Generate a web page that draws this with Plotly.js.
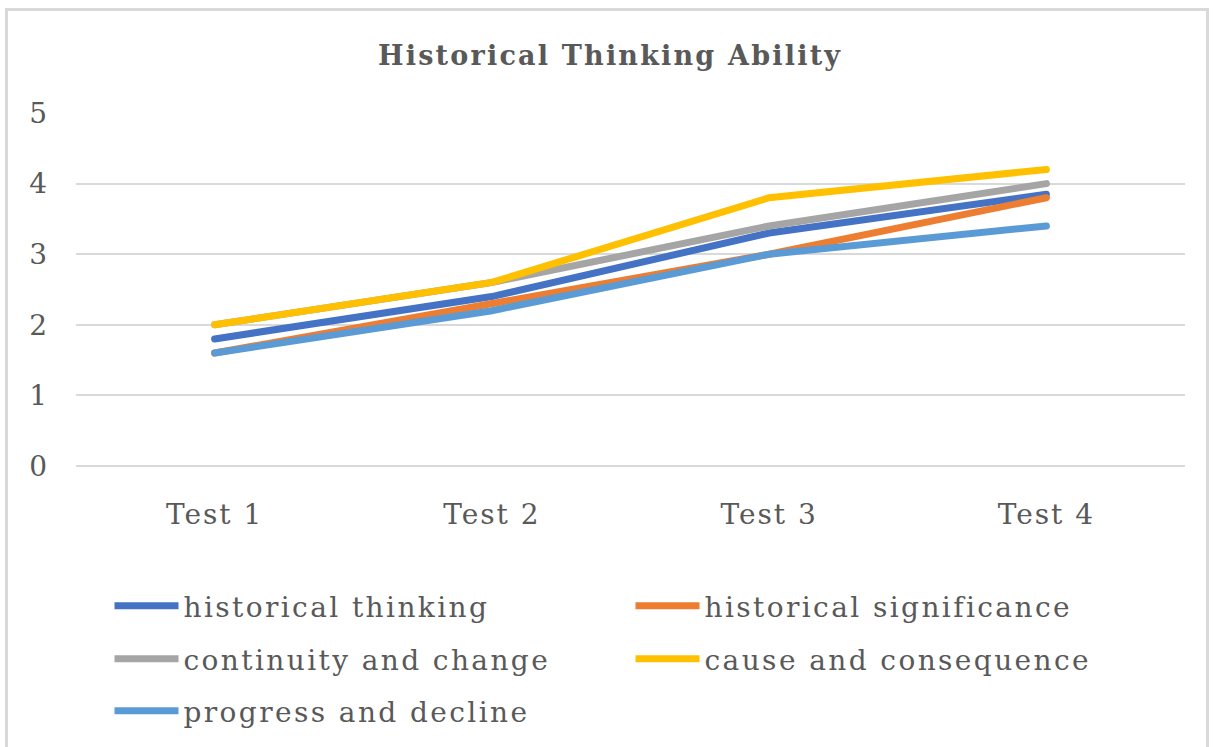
<!DOCTYPE html>
<html>
<head>
<meta charset="utf-8">
<script src="https://cdn.plot.ly/plotly-3.0.1.min.js"></script>
<style>
  html, body { margin: 0; padding: 0; background: #fff; }
  #chart { width: 1213px; height: 747px; }
  #frame { position: absolute; left: 5px; top: 8px; width: 1204px; height: 760px;
           border: 3px solid #d9d9d9; pointer-events: none; box-sizing: border-box; }
  .xtick text { letter-spacing: 2px; }
  .infolayer g[class^="legend"] text, text.legendtext { letter-spacing: 2.4px !important; }
  .infolayer g[class^="legend"] g.scrollbox { clip-path: none !important; }
  .gtitle { letter-spacing: 2.2px; }
  .scatterlayer path.js-line { stroke-linecap: round !important; }
</style>
</head>
<body>
<div id="chart"></div>
<div id="frame"></div>
<script>
const categories = ["Test 1", "Test 2", "Test 3", "Test 4"];
const historicalThinking = [1.8, 2.4, 3.3, 3.85];
const historicalSignificance = [1.6, 2.3, 3.0, 3.8];
const continuityAndChange = [2.0, 2.6, 3.4, 4.0];
const causeAndConsequence = [2.0, 2.6, 3.8, 4.2];
const progressAndDecline = [1.6, 2.2, 3.0, 3.4];
const seriesNames = ["historical thinking", "historical significance", "continuity and change", "cause and consequence", "progress and decline"];
const yTicks = [0, 1, 2, 3, 4, 5];

const colors = ["#4472C4", "#ED7D31", "#A5A5A5", "#FFC000", "#5B9BD5"];
const values = [historicalThinking, historicalSignificance, continuityAndChange, causeAndConsequence, progressAndDecline];
const legendIds = ["legend", "legend2", "legend3", "legend4", "legend5"];

const traces = values.map((v, i) => ({
  type: "scatter",
  mode: "lines",
  x: categories,
  y: v,
  name: seriesNames[i],
  legend: legendIds[i],
  line: { color: colors[i], width: 7 },
  hoverinfo: "x+y+name"
}));

const font = "DejaVu Serif, serif";
function legendAt(px, py) {
  return {
    orientation: "h",
    xref: "container", yref: "container",
    x: px / 1213, y: 1 - py / 747, xanchor: "left", yanchor: "middle",
    font: { family: font, size: 28, color: "#595959" },
    bgcolor: "rgba(0,0,0,0)",
    itemwidth: 64,
    entrywidth: 470, entrywidthmode: "pixels"
  };
}
const colA = 109.5, colB = 630.5;
const rowY = [606, 659, 711];

const layout = {
  width: 1213, height: 747,
  paper_bgcolor: "#ffffff", plot_bgcolor: "#ffffff",
  margin: { l: 76, r: 28, t: 113, b: 281 },
  title: {
    text: "<b>Historical Thinking Ability</b>",
    font: { family: font, size: 27, color: "#595959" },
    x: 0.503, xanchor: "center", y: 0.926, yanchor: "middle", xref: "container", yref: "container"
  },
  xaxis: {
    type: "category",
    range: [-0.5, 3.5],
    showgrid: false, zeroline: false, showline: false, ticks: "",
    tickfont: { family: font, size: 28, color: "#595959" },
    ticklabelstandoff: 29
  },
  yaxis: {
    range: [0, 5],
    tickvals: yTicks,
    showgrid: true, gridcolor: "#d9d9d9", gridwidth: 2,
    zeroline: true, zerolinecolor: "#d9d9d9", zerolinewidth: 2,
    showline: false, ticks: "",
    tickfont: { family: font, size: 28, color: "#595959" },
    ticklabelstandoff: 28
  },
  showlegend: true,
  legend: legendAt(colA, rowY[0]),
  legend2: legendAt(colB, rowY[0]),
  legend3: legendAt(colA, rowY[1]),
  legend4: legendAt(colB, rowY[1]),
  legend5: legendAt(colA, rowY[2])
};

Plotly.newPlot("chart", traces, layout, { displayModeBar: false, staticPlot: true });
</script>
</body>
</html>
